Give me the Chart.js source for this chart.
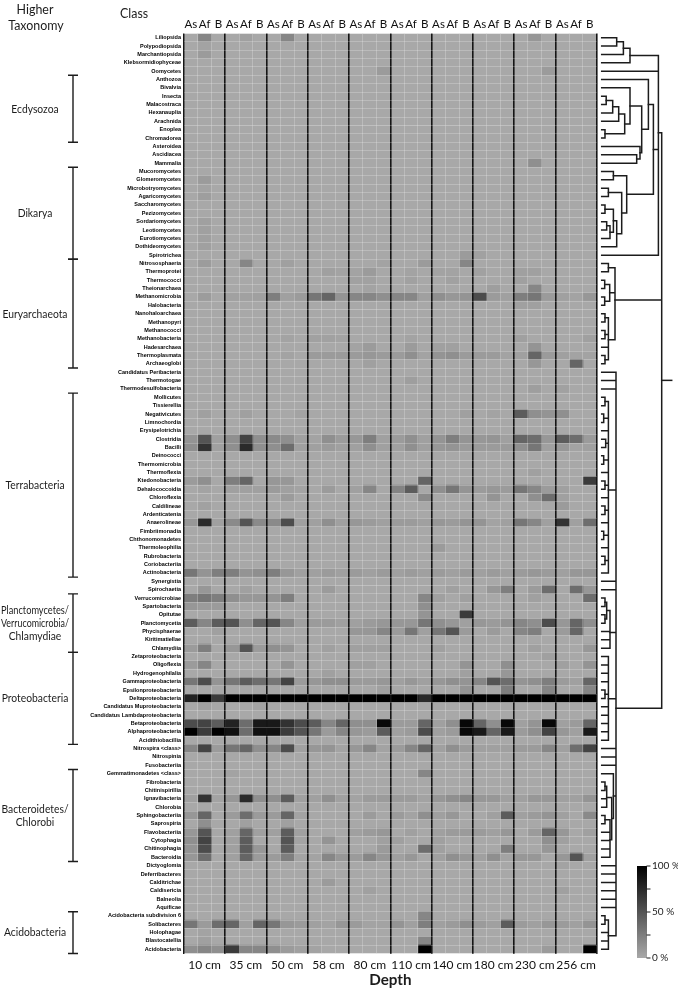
<!DOCTYPE html>
<html><head><meta charset="utf-8">
<script src="https://cdn.jsdelivr.net/npm/chart.js@4.4.0/dist/chart.umd.min.js"></script>
<style>html,body{margin:0;padding:0;background:#fff;}#wrap{width:678px;height:990px;}</style>
</head><body><div id="wrap"><canvas id="c" width="678" height="990"></canvas></div>
<script>
const classes = ['Liliopsida','Polypodiopsida','Marchantiopsida','Klebsormidiophyceae','Oomycetes','Anthozoa','Bivalvia','Insecta','Malacostraca','Hexanauplia','Arachnida','Enoplea','Chromadorea','Asteroidea','Ascidiacea','Mammalia','Mucoromycetes','Glomeromycetes','Microbotryomycetes','Agaricomycetes','Saccharomycetes','Pezizomycetes','Sordariomycetes','Leotiomycetes','Eurotiomycetes','Dothideomycetes','Spirotrichea','Nitrososphaeria','Thermoprotei','Thermococci','Theionarchaea','Methanomicrobia','Halobacteria','Nanohaloarchaea','Methanopyri','Methanococci','Methanobacteria','Hadesarchaea','Thermoplasmata','Archaeoglobi','Candidatus Peribacteria','Thermotogae','Thermodesulfobacteria','Mollicutes','Tissierellia','Negativicutes','Limnochordia','Erysipelotrichia','Clostridia','Bacilli','Deinococci','Thermomicrobia','Thermoflexia','Ktedonobacteria','Dehalococcoidia','Chloroflexia','Caldilineae','Ardenticatenia','Anaerolineae','Fimbriimonadia','Chthonomonadetes','Thermoleophilia','Rubrobacteria','Coriobacteriia','Actinobacteria','Synergistia','Spirochaetia','Verrucomicrobiae','Spartobacteria','Opitutae','Planctomycetia','Phycisphaerae','Kiritimatiellae','Chlamydiia','Zetaproteobacteria','Oligoflexia','Hydrogenophilalia','Gammaproteobacteria','Epsilonproteobacteria','Deltaproteobacteria','Candidatus Muproteobacteria','Candidatus Lambdaproteobacteria','Betaproteobacteria','Alphaproteobacteria','Acidithiobacillia','Nitrospira <class>','Nitrospinia','Fusobacteriia','Gemmatimonadetes <class>','Fibrobacteria','Chitinispirillia','Ignavibacteria','Chlorobia','Sphingobacteriia','Saprospiria','Flavobacteriia','Cytophagia','Chitinophagia','Bacteroidia','Dictyoglomia','Deferribacteres','Calditrichae','Caldisericia','Balneolia','Aquificae','Acidobacteria subdivision 6','Solibacteres','Holophagae','Blastocatellia','Acidobacteria'];

const depths = ['10 cm','35 cm','50 cm','58 cm','80 cm','110 cm','140 cm','180 cm','230 cm','256 cm'];
const fractions = ['As','Af','B'];
const sampleLabels = depths.flatMap(() => fractions);
const colorbarTicks = [0, 25, 50, 75, 100];
const colorbarLabels = ['0 %', '', '50 %', '', '100 %'];

// relative abundance (%) per class (rows) and sample (columns: As, Af, B for each depth)
const values = [
[0,20,0, 0,5,0, 0,20,0, 0,0,0, 0,0,0, 0,0,0, 0,0,0, 0,0,0, 0,10,0, 0,0,0],
[0,3,0, 0,0,0, 0,0,0, 0,0,0, 0,0,0, 0,0,0, 0,0,0, 0,0,0, 0,0,0, 0,0,0],
[0,8,0, 0,0,0, 0,0,0, 0,0,0, 0,0,0, 0,0,0, 0,0,0, 0,0,0, 0,0,0, 0,0,0],
[0,0,0, 0,0,0, 0,0,0, 0,0,0, 0,0,0, 0,0,0, 0,0,0, 0,0,0, 0,0,0, 0,0,0],
[0,0,0, 0,0,0, 0,0,0, 0,0,0, 0,0,8, 0,0,0, 0,0,0, 0,0,0, 0,0,8, 0,0,0],
[0,0,0, 0,0,0, 0,0,0, 0,0,0, 0,0,0, 0,0,0, 0,0,0, 0,0,0, 0,0,0, 0,0,0],
[0,0,0, 0,0,0, 0,0,0, 0,0,0, 0,0,0, 0,0,0, 0,0,0, 0,0,0, 0,0,0, 0,0,0],
[0,0,0, 0,0,0, 0,0,0, 0,0,0, 0,0,0, 0,0,0, 0,0,0, 0,0,0, 0,0,0, 0,0,0],
[0,0,0, 0,0,0, 0,0,0, 0,0,0, 0,0,0, 0,0,0, 0,0,0, 0,0,0, 0,0,0, 0,0,0],
[0,0,0, 0,0,0, 0,0,0, 0,0,0, 0,0,0, 0,0,0, 0,0,0, 0,0,0, 0,0,0, 0,0,0],
[0,0,0, 0,0,0, 0,0,0, 0,0,0, 0,0,0, 0,0,0, 0,0,0, 0,0,0, 0,0,0, 0,0,0],
[0,0,0, 0,0,0, 0,0,0, 0,0,0, 0,0,0, 0,0,0, 0,0,0, 0,0,0, 0,0,0, 0,0,0],
[0,0,0, 0,0,0, 0,0,0, 0,0,0, 0,0,0, 0,0,0, 0,0,0, 0,0,0, 0,0,0, 0,0,0],
[0,0,0, 0,0,0, 0,0,0, 0,0,0, 0,0,0, 0,0,0, 0,0,0, 0,0,0, 0,0,0, 0,0,0],
[0,0,0, 0,0,0, 0,0,0, 0,0,0, 0,0,0, 0,0,0, 0,0,0, 0,0,0, 0,0,0, 0,0,0],
[0,0,0, 0,0,0, 0,0,0, 0,0,0, 0,0,0, 0,0,0, 0,0,0, 0,0,0, 0,15,0, 0,0,0],
[0,0,0, 0,0,0, 0,0,0, 0,0,0, 0,0,0, 0,0,0, 0,0,0, 0,0,0, 0,0,0, 0,0,0],
[0,8,0, 0,0,0, 0,0,0, 0,0,0, 0,0,0, 0,0,0, 0,0,0, 0,0,0, 0,0,0, 0,0,0],
[0,3,0, 0,0,0, 0,0,0, 0,0,0, 0,0,0, 0,0,0, 0,0,0, 0,0,0, 0,0,0, 0,0,0],
[0,6,0, 0,0,0, 0,0,0, 0,0,0, 0,0,0, 0,0,0, 0,0,0, 0,0,0, 0,0,0, 0,0,0],
[0,0,0, 0,0,0, 0,0,0, 0,0,0, 0,0,0, 0,0,0, 0,0,0, 0,0,0, 0,0,0, 0,0,0],
[0,0,0, 0,0,0, 0,0,0, 0,0,0, 0,0,0, 0,0,0, 0,0,0, 0,0,0, 0,0,0, 0,0,0],
[0,5,0, 0,0,0, 0,0,0, 0,0,0, 0,0,0, 0,0,0, 0,0,0, 0,0,0, 0,0,0, 0,0,0],
[0,5,0, 0,0,0, 0,0,0, 0,0,0, 0,0,0, 0,0,0, 0,0,0, 0,0,0, 0,0,0, 0,0,0],
[0,5,0, 0,0,0, 0,0,0, 0,0,0, 0,0,0, 0,0,0, 0,0,0, 0,0,0, 0,0,0, 0,0,0],
[0,5,0, 0,0,0, 0,0,0, 0,0,0, 0,0,0, 0,0,0, 0,0,0, 0,0,0, 0,0,0, 0,0,0],
[0,0,0, 0,0,0, 0,0,0, 0,0,0, 0,0,0, 0,0,0, 0,0,8, 4,0,0, 0,0,0, 0,0,0],
[0,7,0, 0,20,0, 0,5,0, 0,0,0, 0,0,3, 0,0,8, 0,0,20, 0,0,0, 0,0,0, 0,0,0],
[0,0,0, 0,0,0, 0,0,0, 0,5,3, 3,8,0, 0,3,0, 3,3,0, 4,0,0, 5,5,0, 0,0,0],
[0,0,0, 0,0,0, 0,0,0, 0,0,0, 4,4,0, 0,4,0, 0,4,0, 0,0,0, 5,0,0, 0,0,0],
[0,0,0, 0,0,0, 0,0,0, 0,0,0, 0,3,0, 0,0,0, 0,0,0, 0,6,0, 0,20,0, 0,0,0],
[0,7,0, 4,4,5, 25,5,8, 30,40,12, 20,20,15, 20,20,5, 15,10,12, 55,8,5, 25,30,8, 5,3,10],
[0,0,0, 0,0,0, 0,0,0, 0,0,0, 0,0,0, 0,0,0, 0,0,0, 0,0,0, 5,5,0, 0,0,0],
[0,0,0, 0,0,0, 0,0,0, 0,0,0, 0,0,0, 0,0,0, 0,0,0, 0,0,0, 0,0,0, 0,0,0],
[0,0,0, 0,0,0, 0,0,0, 0,0,0, 0,0,0, 0,0,0, 0,0,0, 0,0,0, 0,0,0, 0,0,0],
[0,0,0, 0,0,0, 0,0,0, 0,0,0, 0,0,0, 0,0,0, 0,0,0, 0,0,0, 0,0,0, 0,0,0],
[0,0,0, 0,0,0, 0,3,0, 4,4,3, 0,0,0, 0,3,0, 0,0,0, 0,0,0, 5,0,0, 0,0,5],
[0,0,0, 0,0,0, 0,0,0, 0,0,0, 3,8,0, 0,8,0, 5,5,0, 0,0,0, 0,12,0, 0,0,0],
[0,0,0, 0,0,0, 0,3,0, 8,8,8, 8,10,8, 8,15,3, 12,15,8, 8,8,3, 5,40,8, 5,3,3],
[0,0,0, 0,0,0, 0,0,0, 0,0,0, 0,5,0, 0,0,0, 0,0,0, 0,0,0, 0,10,0, 0,40,0],
[0,0,0, 0,0,0, 0,0,0, 0,0,0, 0,0,0, 0,0,0, 0,0,0, 0,0,0, 0,0,0, 0,0,0],
[0,0,0, 0,0,0, 0,0,0, 0,0,0, 0,0,0, 0,6,0, 0,0,0, 0,0,0, 0,0,0, 0,0,0],
[0,0,0, 0,0,0, 0,0,0, 0,0,0, 0,0,0, 0,0,0, 0,0,0, 0,0,0, 0,6,0, 4,0,0],
[0,0,0, 0,0,0, 0,0,0, 0,0,0, 0,0,0, 0,0,0, 0,0,0, 0,0,0, 0,0,0, 0,0,0],
[0,0,0, 0,0,0, 0,0,0, 0,0,0, 0,0,0, 0,0,0, 0,0,0, 0,0,0, 0,0,0, 0,0,0],
[0,5,0, 0,5,0, 0,0,3, 0,0,0, 0,0,0, 0,0,0, 0,0,5, 0,3,0, 45,15,12, 15,0,0],
[0,0,0, 0,0,0, 0,0,0, 0,0,0, 0,0,0, 0,0,0, 0,0,0, 0,0,0, 0,0,0, 0,0,0],
[0,0,0, 0,0,0, 0,0,0, 0,0,0, 0,0,0, 0,0,0, 0,0,0, 0,0,0, 0,0,0, 0,0,0],
[12,50,5, 15,60,15, 18,15,5, 3,15,8, 10,25,5, 8,15,5, 12,25,12, 10,12,5, 40,35,10, 45,35,8],
[15,70,5, 15,75,15, 15,35,5, 5,8,5, 5,15,5, 5,15,5, 10,12,8, 8,8,8, 15,30,5, 10,3,5],
[0,0,0, 0,0,0, 0,0,0, 0,0,0, 0,0,0, 0,0,0, 0,0,0, 0,0,0, 0,0,0, 0,0,0],
[0,0,0, 0,0,0, 0,0,0, 0,0,0, 0,0,0, 0,0,0, 0,0,0, 0,0,0, 0,0,0, 0,0,0],
[0,0,0, 0,0,0, 0,0,0, 0,0,0, 0,0,0, 0,0,0, 0,0,0, 0,0,0, 0,5,0, 0,0,0],
[8,15,0, 25,40,0, 10,10,0, 0,0,0, 0,0,0, 0,0,40, 0,0,0, 0,0,0, 0,0,0, 0,0,65],
[0,3,0, 5,5,5, 8,5,3, 0,8,0, 5,20,0, 22,45,0, 15,30,12, 8,10,8, 30,20,8, 5,0,0],
[0,0,0, 0,0,0, 0,8,0, 0,0,0, 0,0,0, 0,0,18, 0,0,0, 0,12,0, 0,15,35, 5,0,0],
[0,4,0, 0,0,0, 0,0,0, 0,0,0, 0,0,0, 0,0,0, 0,0,0, 0,0,0, 0,0,0, 8,0,0],
[0,0,0, 0,0,0, 0,0,0, 0,0,0, 0,0,0, 0,0,0, 0,0,0, 0,0,0, 0,0,0, 0,0,0],
[10,75,5, 18,50,18, 18,55,5, 5,15,5, 10,8,5, 8,8,5, 10,8,12, 12,3,5, 30,20,5, 70,5,35],
[0,0,0, 0,0,0, 0,0,0, 0,0,0, 0,0,0, 0,0,0, 0,0,0, 0,0,0, 0,0,0, 0,0,0],
[0,0,0, 0,0,0, 0,0,0, 0,0,0, 0,0,0, 0,0,0, 0,0,0, 0,0,0, 0,0,0, 0,0,0],
[0,0,0, 0,0,0, 0,0,0, 0,0,0, 0,0,0, 0,0,0, 8,0,0, 0,0,0, 0,0,0, 0,0,0],
[0,0,0, 0,0,0, 0,0,0, 0,0,0, 0,0,0, 0,0,0, 0,0,0, 0,0,0, 0,0,0, 0,0,0],
[0,0,0, 0,0,0, 0,0,0, 0,0,0, 0,0,0, 0,0,0, 0,0,0, 0,0,0, 0,0,0, 0,0,0],
[30,12,25, 25,12,15, 25,10,5, 5,8,5, 8,5,8, 5,8,5, 8,5,8, 5,8,5, 8,10,8, 5,10,10],
[0,0,0, 0,0,0, 0,0,0, 0,0,0, 0,0,0, 0,0,0, 0,0,0, 0,0,0, 0,0,0, 0,0,0],
[0,10,0, 0,5,0, 0,0,0, 0,8,0, 0,0,0, 0,0,0, 0,5,0, 0,10,25, 0,8,35, 0,35,10],
[25,30,25, 15,10,10, 12,25,0, 0,0,0, 0,0,0, 0,0,20, 5,0,5, 0,0,0, 0,5,0, 0,0,35],
[10,8,8, 0,0,0, 0,0,0, 0,0,0, 0,0,0, 0,0,15, 0,0,0, 0,0,0, 0,0,0, 0,0,0],
[0,0,0, 0,0,0, 0,0,0, 0,0,0, 0,0,0, 0,0,12, 0,0,65, 0,0,0, 0,0,0, 0,0,0],
[45,20,45, 50,15,40, 50,20,5, 8,8,5, 5,8,10, 10,10,30, 15,10,5, 10,8,12, 20,15,55, 10,40,15],
[0,0,5, 0,0,0, 0,0,0, 0,0,0, 10,10,20, 8,30,5, 30,50,8, 0,8,0, 20,25,0, 8,40,0],
[0,0,0, 0,0,0, 0,0,0, 0,0,0, 0,0,0, 0,0,0, 0,0,0, 0,0,0, 0,0,0, 0,0,0],
[8,25,0, 10,50,8, 15,12,0, 0,5,0, 5,5,5, 0,0,0, 5,0,0, 0,0,0, 0,5,0, 0,0,10],
[0,0,0, 0,0,0, 0,0,0, 0,0,0, 0,0,0, 0,0,0, 0,0,0, 0,0,0, 0,0,5, 0,0,0],
[8,20,0, 0,0,0, 0,12,0, 0,0,0, 5,5,0, 0,0,0, 0,0,12, 0,0,15, 0,0,0, 5,0,12],
[0,0,0, 0,0,0, 0,0,0, 0,5,0, 0,0,0, 0,0,0, 0,0,5, 0,0,10, 0,0,0, 0,0,0],
[30,55,12, 30,45,35, 30,60,8, 10,15,15, 8,8,10, 5,10,5, 10,15,12, 20,50,35, 12,15,25, 8,5,40],
[0,0,0, 0,0,0, 0,0,0, 0,0,0, 0,0,5, 0,0,0, 0,0,12, 0,0,25, 0,0,20, 0,0,20],
[80,100,65, 100,100,100, 100,100,100, 100,100,100, 100,100,100, 100,100,75, 100,100,100, 100,100,100, 100,100,100, 100,100,100],
[0,5,0, 0,0,3, 0,0,0, 0,0,0, 0,0,0, 0,0,0, 0,0,0, 0,0,0, 0,0,0, 0,0,0],
[0,0,0, 0,0,0, 0,0,0, 0,0,0, 0,0,0, 0,0,0, 0,0,0, 0,0,0, 0,0,0, 0,0,0],
[55,60,45, 80,35,85, 85,70,55, 45,20,40, 15,15,95, 8,8,40, 5,15,95, 40,15,95, 5,12,95, 5,8,40],
[100,65,100, 90,35,90, 90,65,50, 30,8,20, 10,8,45, 5,8,55, 5,8,95, 85,40,85, 8,15,60, 10,5,85],
[0,0,0, 0,0,0, 0,0,0, 0,0,0, 0,0,0, 0,0,0, 0,0,0, 0,0,0, 0,0,0, 0,0,0],
[20,60,8, 30,40,15, 20,55,5, 10,12,3, 10,20,3, 8,20,40, 5,15,8, 5,5,5, 8,8,20, 5,35,60],
[0,0,0, 0,0,0, 0,0,0, 0,0,0, 0,0,0, 0,0,0, 0,0,0, 0,0,0, 0,0,0, 0,0,0],
[0,0,0, 0,0,0, 0,0,0, 0,0,0, 0,0,0, 0,0,0, 0,0,0, 0,0,0, 0,0,0, 0,0,0],
[0,0,0, 3,0,0, 0,0,0, 0,0,0, 0,0,0, 0,0,20, 0,0,0, 0,0,0, 0,0,0, 0,0,0],
[0,0,0, 0,0,0, 0,0,0, 0,0,0, 0,0,0, 0,0,0, 0,0,0, 0,0,0, 0,0,0, 0,0,0],
[0,0,0, 0,0,0, 0,0,0, 0,0,0, 0,0,0, 0,0,0, 0,0,0, 0,0,0, 0,0,0, 0,0,0],
[5,70,3, 10,75,15, 15,45,5, 5,15,5, 3,8,8, 8,8,3, 10,15,20, 10,10,5, 5,10,10, 5,5,12],
[0,0,0, 0,0,0, 0,0,0, 0,0,0, 0,0,0, 0,0,0, 0,0,0, 0,0,0, 0,0,0, 0,0,0],
[10,40,0, 8,35,8, 8,40,3, 0,0,0, 0,8,0, 8,3,15, 5,10,0, 0,5,45, 5,8,12, 5,0,18],
[0,15,0, 0,5,0, 0,5,0, 0,0,0, 0,0,0, 0,0,0, 0,0,0, 0,0,0, 0,0,0, 0,0,0],
[10,50,0, 5,40,5, 5,45,5, 0,0,0, 5,8,10, 0,5,0, 5,8,8, 8,5,10, 0,8,40, 10,0,5],
[15,60,0, 5,45,0, 0,50,3, 0,12,0, 0,0,5, 5,0,0, 5,0,0, 0,0,0, 0,0,15, 5,0,0],
[12,55,0, 5,45,10, 0,45,0, 0,0,0, 0,0,8, 0,0,35, 5,0,0, 0,0,25, 0,0,10, 0,0,0],
[10,35,0, 5,40,8, 8,25,3, 3,20,10, 8,20,10, 5,10,0, 5,15,10, 5,15,3, 10,10,0, 10,50,5],
[0,0,0, 0,0,0, 0,0,0, 0,0,0, 0,0,0, 0,0,0, 0,0,0, 0,0,0, 0,0,0, 3,0,0],
[0,0,0, 0,0,0, 0,0,0, 0,0,0, 0,0,0, 0,0,0, 0,0,0, 0,0,0, 0,0,0, 0,0,0],
[0,0,0, 0,0,0, 0,0,0, 0,8,0, 0,0,0, 0,0,0, 0,0,0, 0,0,0, 0,0,0, 0,0,0],
[0,0,0, 0,0,0, 0,0,0, 0,0,0, 0,5,0, 0,0,0, 0,0,0, 0,0,0, 0,0,0, 5,0,0],
[0,0,0, 0,0,0, 0,0,0, 0,0,0, 0,0,0, 0,0,0, 0,0,0, 0,0,0, 0,0,0, 0,0,0],
[0,0,0, 0,0,0, 0,0,0, 0,0,0, 0,0,0, 0,0,0, 0,0,0, 0,0,0, 0,0,0, 0,0,0],
[0,0,0, 0,0,0, 0,0,0, 0,0,0, 0,0,0, 0,0,20, 0,0,0, 0,0,0, 0,0,0, 0,0,0],
[30,8,35, 40,5,40, 30,10,8, 5,3,10, 8,3,3, 12,5,25, 5,8,15, 8,5,45, 8,5,10, 8,5,12],
[0,3,0, 0,0,0, 0,0,0, 0,0,0, 0,0,0, 0,0,0, 0,0,0, 0,0,0, 0,0,0, 0,0,0],
[0,5,0, 0,0,0, 0,0,0, 0,0,0, 0,0,0, 0,0,20, 0,0,0, 0,0,0, 0,0,0, 0,0,0],
[15,20,15, 65,20,20, 15,8,5, 3,0,0, 0,0,0, 0,0,100, 0,0,0, 0,0,0, 0,0,8, 0,0,100]
];

// higher taxonomy brackets (first and last class covered)
const taxNames = ['Ecdysozoa','Dikarya','Euryarchaeota','Terrabacteria','Planctomycetes/\nVerrucomicrobia/\nChlamydiae','Proteobacteria','Bacteroidetes/\nChlorobi','Acidobacteria'];
const taxFirst = ['Anthozoa','Mucoromycetes','Nitrososphaeria','Mollicutes','Verrucomicrobiae','Zetaproteobacteria','Gemmatimonadetes <class>','Acidobacteria subdivision 6'];
const taxLast = ['Chromadorea','Spirotrichea','Archaeoglobi','Actinobacteria','Chlamydiia','Acidithiobacillia','Bacteroidia','Acidobacteria'];

// dendrogram: N(mergeHeight, ...children); leaves are 1-based row numbers
const N = (h, ...c) => ({h, c});
const treeEuk = N(56.7,
  N(28.3, N(21.7, N(15, 1, 2), 3), 4),
  5,
  N(51.7,
    N(46.7, 6, N(40, N(28.3, 7, N(23, N(17, N(11, N(4.5, 8, 9), 10), 11), N(3.3, 12, 13))), N(38.3, 14, N(35, 15, 16)))),
    N(25, N(11.7, 17, 18), N(20, N(6.7, 19, 20), N(15, N(11.7, N(3.3, 21, 22), N(8.3, N(5, 23, 24), 25)), 26)))),
  27);
const treeArch = N(13.3, N(6.7, 28, 29), N(8, N(3, 30, 31), N(3, 32, 33)), N(6.7, N(3.3, 34, 35), N(3.3, 36, 37), 38, N(3.3, 39, 40)));
const treeBact = N(14.3, 41, 42, 43,
  N(6.7, N(3.3, 44, 45), N(2, 46, 47), 48, N(4, 49, 50), N(2, 51, 52), 53, N(3.3, 54, 55), 56, N(3.3, 57, 58), 59, N(2, 60, 61), 62, N(3.3, 63, 64), 65),
  66, 67,
  N(8.3, N(5, N(3.3, 68, 69), N(3.3, 70, 71)), 72, 73, 74),
  N(6.7, 75, 76, 77, 78, N(3.3, 79, 80), 81, 82, 83, 84, 85),
  86, 87, 88,
  N(11.7, 89, N(10, N(5, N(3.3, 90, 91), 92, 93), N(8.3, N(3.3, 94, 95), 96, 97, 98, 99))),
  100, 101, 102, 103, 104, 105,
  N(6.7, N(3.3, 106, 107), 108, 109, 110));
const treeRoot = N(60, treeEuk, treeArch, treeBact);

function shade(v) {
  const g = Math.round(168 * (1 - v / 100));
  return `rgb(${g},${g},${g})`;
}

const datasets = sampleLabels.map((s, c) => ({
  label: depths[Math.floor(c / 3)] + ' ' + s,
  data: classes.map(() => [c, c + 1]),
  backgroundColor: classes.map((_, r) => shade(values[r][c])),
  borderWidth: 0,
  barPercentage: 1,
  categoryPercentage: 1,
  grouped: false,
  xAxisID: 'x',
  yAxisID: 'y'
}));

const ink = '#1c1c1c';
function squeezeText(ctx, t, x, y, sx, maxW) {
  ctx.save();
  ctx.translate(x, y);
  ctx.scale(sx, 1);
  const w = ctx.measureText(t).width;
  const f = Math.min(1, maxW / (w * sx));
  ctx.scale(f, 1);
  ctx.fillText(t, 0, 0);
  ctx.restore();
}
const decor = {
  id: 'decor',
  afterDraw(chart) {
    const {ctx, chartArea: ca, scales} = chart;
    const y = scales.y;
    const rowH = y.getPixelForValue(1) - y.getPixelForValue(0);
    ctx.save();
    ctx.fillStyle = ink; ctx.strokeStyle = ink;
    ctx.textBaseline = 'middle';
    // headers
    ctx.font = '13.5px Lato';
    ctx.textAlign = 'center';
    squeezeText(ctx, 'Higher', 35, 10, 0.92, 80);
    squeezeText(ctx, 'Taxonomy', 36, 26, 0.92, 80);
    ctx.textAlign = 'left';
    squeezeText(ctx, 'Class', 120, 14, 0.92, 80);
    // brackets
    ctx.lineWidth = 1.4;
    taxNames.forEach((name, i) => {
      const top = y.getPixelForValue(classes.indexOf(taxFirst[i])) - rowH / 2;
      const bot = y.getPixelForValue(classes.indexOf(taxLast[i])) + rowH / 2;
      ctx.beginPath();
      ctx.moveTo(73, top); ctx.lineTo(73, bot);
      ctx.moveTo(68, top); ctx.lineTo(78, top);
      ctx.moveTo(68, bot); ctx.lineTo(78, bot);
      ctx.stroke();
      const lines = name.split('\n');
      const mid = (top + bot) / 2;
      ctx.font = '12px Lato';
      ctx.textAlign = 'center';
      lines.forEach((t, k) => squeezeText(ctx, t, 35, mid + (k - (lines.length - 1) / 2) * 12.8, 0.86, 68));
    });
    // depth title
    ctx.font = 'bold 16px Lato';
    ctx.textAlign = 'center';
    squeezeText(ctx, 'Depth', (ca.left + ca.right) / 2, 980, 0.95, 60);
    // dendrogram
    const x0 = ca.right + 5;
    ctx.lineWidth = 1.5;
    ctx.lineCap = 'square';
    function draw(node) {
      if (typeof node === 'number') return {x: x0, y: y.getPixelForValue(node - 1)};
      const kids = node.c.map(draw);
      const nx = x0 + node.h;
      const ys = kids.map(k => k.y);
      ctx.beginPath();
      kids.forEach(k => { ctx.moveTo(k.x, k.y); ctx.lineTo(nx, k.y); });
      ctx.moveTo(nx, Math.min(...ys)); ctx.lineTo(nx, Math.max(...ys));
      ctx.stroke();
      return {x: nx, y: ys.reduce((a, b) => a + b, 0) / ys.length};
    }
    const root = draw(treeRoot);
    ctx.beginPath(); ctx.moveTo(root.x, root.y); ctx.lineTo(root.x + 10, root.y); ctx.stroke();
    // colour bar
    const cbL = 637, cbR = 647, cbT = 866, cbB = 958;
    const grad = ctx.createLinearGradient(0, cbB, 0, cbT);
    grad.addColorStop(0, shade(0));
    grad.addColorStop(1, shade(100));
    ctx.fillStyle = grad;
    ctx.fillRect(cbL, cbT, cbR - cbL, cbB - cbT);
    ctx.fillStyle = ink;
    ctx.lineWidth = 1;
    ctx.font = '10px Lato';
    ctx.textAlign = 'left';
    colorbarTicks.forEach((t, i) => {
      const py = cbB - (cbB - cbT) * t / 100;
      ctx.beginPath(); ctx.moveTo(cbR, py); ctx.lineTo(cbR + 3, py); ctx.stroke();
      if (colorbarLabels[i]) ctx.fillText(colorbarLabels[i], cbR + 5, py);
    });
    ctx.restore();
  }
};

new Chart(document.getElementById('c'), {
  type: 'bar',
  data: {labels: classes, datasets},
  options: {
    indexAxis: 'y',
    responsive: false,
    animation: false,
    devicePixelRatio: 1,
    layout: {padding: {left: 0, right: 81.3, top: 0, bottom: 0}},
    plugins: {legend: {display: false}, tooltip: {enabled: false}},
    scales: {
      x: {
        type: 'linear', min: 0, max: 30, position: 'bottom',
        ticks: {display: false, stepSize: 1},
        border: {display: false},
        grid: {
          z: 1, drawTicks: false,
          color: c => (c.tick.value % 3 === 0 ? '#151515' : 'rgba(255,255,255,0.22)'),
          lineWidth: c => (c.tick.value % 3 === 0 ? 1.6 : 1)
        },
        afterFit: s => { s.height = 0; }
      },
      xTop: {
        type: 'category', labels: sampleLabels, position: 'top', offset: true,
        grid: {display: false, drawTicks: false}, border: {display: false},
        ticks: {autoSkip: false, maxRotation: 0, color: '#111', padding: 2, font: {family: 'Lato', size: 11.5}},
        afterFit: s => { s.height = 33.5; }
      },
      xBot: {
        type: 'category', labels: depths, position: 'bottom', offset: true,
        grid: {display: false, drawTicks: false}, border: {display: false},
        ticks: {autoSkip: false, maxRotation: 0, color: '#111', padding: 4, font: {family: 'Lato', size: 12}},
        afterFit: s => { s.height = 36.5; }
      },
      y: {
        type: 'category', offset: true,
        grid: {offset: true, z: 1, drawTicks: false, color: 'rgba(255,255,255,0.22)', lineWidth: 1},
        border: {display: false},
        ticks: {autoSkip: false, color: '#000', padding: 3, font: {family: 'Liberation Sans', weight: 'bold', size: 5.5}},
        afterFit: s => { s.width = 184; }
      }
    }
  },
  plugins: [decor]
});
</script>
</body></html>
